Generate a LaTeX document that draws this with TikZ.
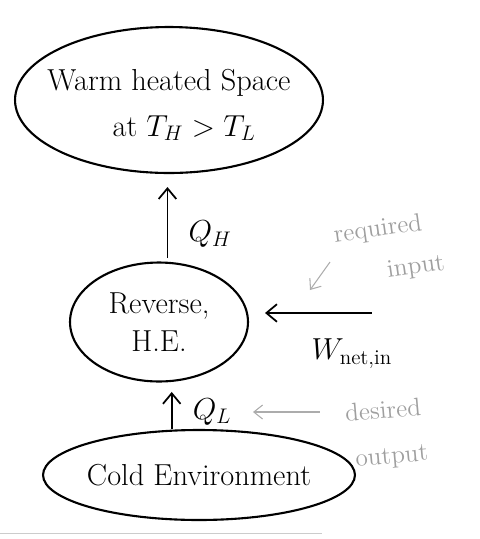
\documentclass[tikz,border=0pt]{standalone}
\usepackage{amsmath,amssymb,amsfonts}
\usepackage{xcolor}
\usepackage{tikz}
\usetikzlibrary{shapes, arrows.meta, positioning}

\begin{document}
\begin{tikzpicture}[
        x=0.02cm, y=-0.02cm,
        node distance=0.2cm,
        reservoir/.style={ellipse, draw, line width=1.2pt, inner sep=0pt},
        body_text/.style={font=\LARGE, align=center},
        note_text/.style={font=\Large, text=gray!75, rotate=8, inner sep=1pt},
        arrow/.style={-{Straight Barb[length=6pt, width=10pt]}, line width=1pt},
        note_arrow/.style={-{Straight Barb[length=5pt, width=8pt]}, draw=gray!65, line width=0.6pt}
    ]
    \useasboundingbox (0,0) rectangle (480,539);
    % the three ellipses
    \node[reservoir, minimum width=6.16cm, minimum height=2.92cm] (warm_space) at (169,100) {};
    \node[body_text, yshift=-0.1cm] (warm_text) at (warm_space) {Warm heated Space\\[4pt] \quad at $T_H > T_L$};
    \node[reservoir, minimum width=3.56cm, minimum height=2.38cm] (engine) at (159,322) {};
    \node[body_text] (engine_text) at (engine) {Reverse,\\ H.E.};
    \node[reservoir, minimum width=6.24cm, minimum height=1.8cm] (cold_env) at (199,475) {};
    \node[body_text] (cold_text) at (cold_env) {Cold Environment};
    % heat flows
    \draw[arrow, shorten <=2pt, shorten >=0.26cm] (engine.82) -- (engine.82 |- warm_space.south);
    \node[body_text, right=0.3cm of engine.82, yshift=0.55cm] (q_high) {$Q_H$};
    \draw[arrow, shorten >=0.2cm] (engine.-78 |- cold_env.north) -- (engine.-78);
    \node[body_text, right=0.3cm of engine.-78, yshift=-0.6cm] (q_low) {$Q_L$};
    % work input
    \coordinate (work_start) at (372,313);
    \draw[arrow, shorten >=0.32cm] (work_start) -- (work_start -| engine.east);
    \node[body_text, below=0.4cm of work_start, xshift=-0.4cm] (work_in) {$W_{\text{net,in}}$};
    % notes
    \node[note_text] (req_word) at (378,230) {required};
    \node[note_text] (input_word) at (416,268) {input};
    \coordinate (req_tail) at (330,262);
    \coordinate (req_tip) at (310,290);
    \draw[note_arrow] (req_tail) -- (req_tip);
    \node[note_text, rotate=-3] (desired_word) at (383,410) {desired};
    \node[note_text, rotate=-3] (output_word) at (392,458) {output};
    \coordinate (des_tail) at (320,412);
    \coordinate (des_tip) at (253,412);
    \draw[note_arrow] (des_tail) -- (des_tip);
    \draw[gray!40, line width=0.5pt] (0,533) -- (322,533);
\end{tikzpicture}
\end{document}
